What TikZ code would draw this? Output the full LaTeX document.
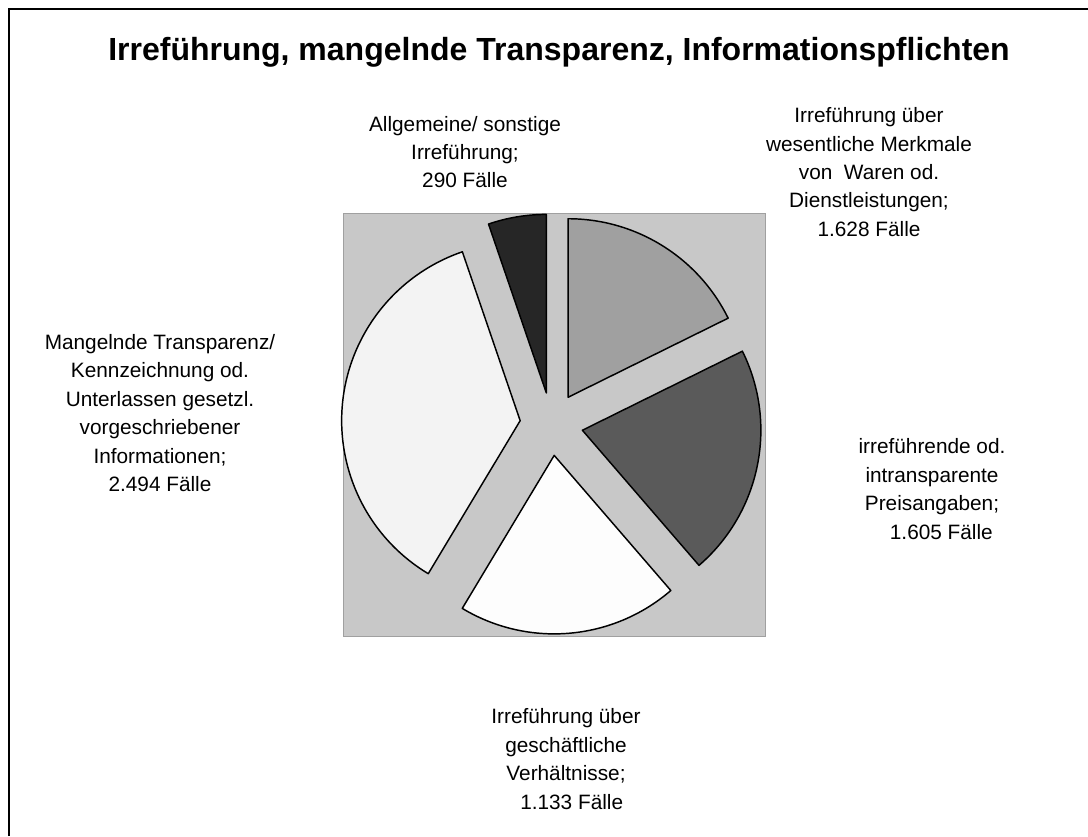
\documentclass[tikz,border=0pt]{standalone}
\usepackage{fontspec}
\setmainfont{Liberation Sans}
\usetikzlibrary{calc}
\definecolor{boxgray}{HTML}{C8C8C8}
\definecolor{boxedge}{HTML}{A0A0A0}
\definecolor{sA}{HTML}{A0A0A0}
\definecolor{sB}{HTML}{5A5A5A}
\definecolor{sC}{HTML}{FDFDFD}
\definecolor{sD}{HTML}{F3F3F3}
\definecolor{sE}{HTML}{262626}
\begin{document}
\begin{tikzpicture}[x=0.75pt,y=0.75pt,
  lbl/.style={align=center,font=\fontsize{15.6}{21.3}\selectfont,inner sep=0pt},
  slice/.style={draw=black,line width=1.1pt,line join=round}]
\useasboundingbox (0,0) rectangle (1088,836);
\fill[white] (0,0) rectangle (1088,836);
\draw[line width=1pt] (9,0) -- (9,827) -- (1088,827);
\node[font=\fontsize{24}{28}\selectfont\bfseries, anchor=base, inner sep=0pt] (title) at (559,775) {Irreführung, mangelnde Transparenz, Informationspflichten};
% plot area
\draw[draw=boxedge, fill=boxgray, line width=0.75pt] (343,199.3) rectangle (765,622);
\coordinate (c) at (551.5,412);
\def\R{178.5}
\def\D{31.5}
% slices
\draw[slice, fill=sA] ($(c)+(58.15:\D)$) -- ++(90:\R) arc[start angle=90, end angle=26.3, radius=\R] -- cycle;
\draw[slice, fill=sB] ($(c)+(-11.45:\D)$) -- ++(26.3:\R) arc[start angle=26.3, end angle=-49.2, radius=\R] -- cycle;
\draw[slice, fill=sC] ($(c)+(-85.1:\D)$) -- ++(-49.2:\R) arc[start angle=-49.2, end angle=-121, radius=\R] -- cycle;
\draw[slice, fill=sD] ($(c)+(173.95:\D)$) -- ++(239:\R) arc[start angle=239, end angle=108.9, radius=\R] -- cycle;
\draw[slice, fill=sE] ($(c)+(99.45:\D)$) -- ++(108.9:\R) arc[start angle=108.9, end angle=90, radius=\R] -- cycle;
% labels
\node[lbl] (lE) at (465,684) {Allgemeine/ sonstige\\Irreführung;\\290 Fälle};
\node[lbl] (lA) at (869,664) {Irreführung über\\wesentliche Merkmale\\von\ \ Waren od.\\Dienstleistungen;\\1.628 Fälle};
\node[lbl] (lD) at (160,423) {Mangelnde Transparenz/\\Kennzeichnung od.\\Unterlassen gesetzl.\\vorgeschriebener\\Informationen;\\2.494 Fälle};
\node[lbl] (lB) at (932,347) {irreführende od.\\intransparente\\Preisangaben;\\\hspace*{0.9em}1.605 Fälle};
\node[lbl] (lC) at (566,77) {Irreführung über\\geschäftliche\\Verhältnisse;\\\hspace*{0.55em}1.133 Fälle};
\end{tikzpicture}
\end{document}
